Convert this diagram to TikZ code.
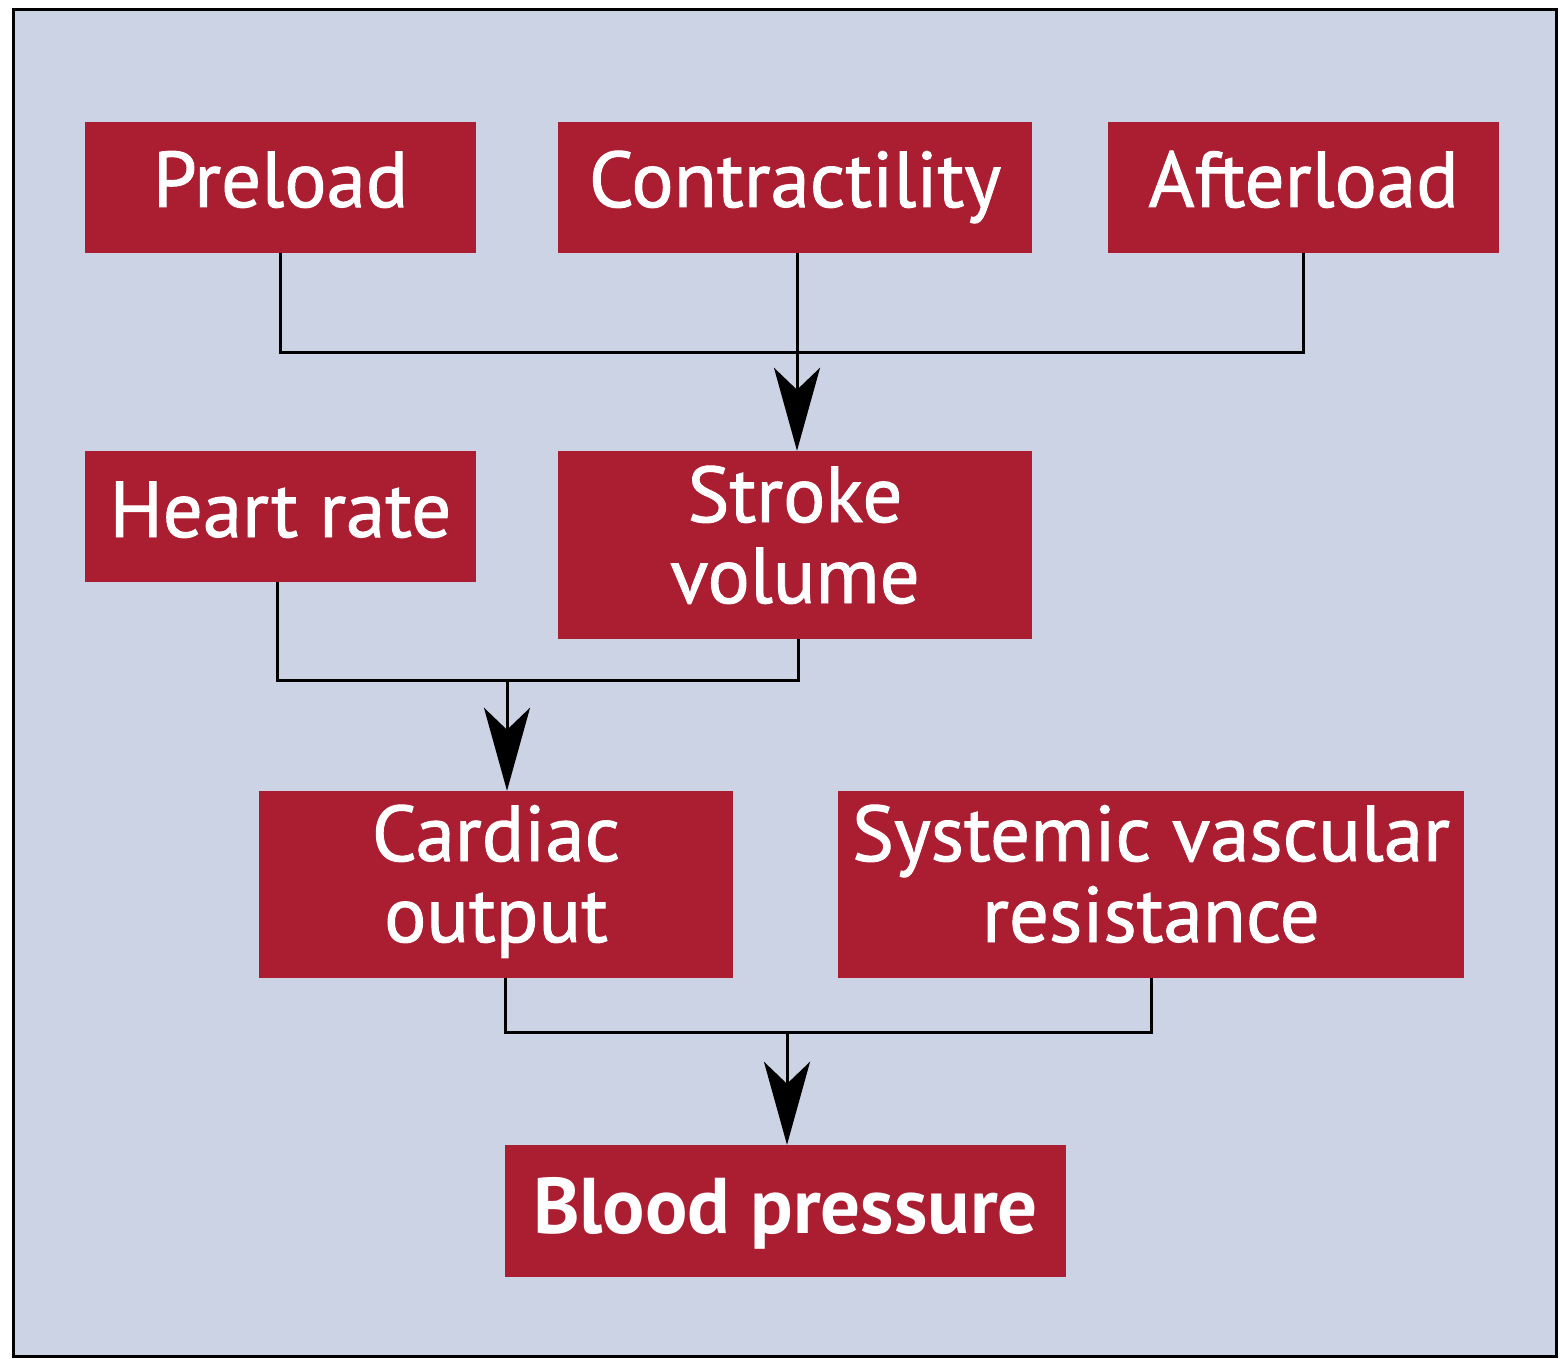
\documentclass[tikz,border=0pt]{standalone}
\usepackage{fontspec}
\setmainfont{PT Sans}[FakeBold=1.5, BoldFont={PT Sans Bold}, BoldFeatures={FakeBold=0}]
\newfontfamily\regfont{PT Sans}[FakeBold=1.2]
\newfontfamily\boldfont{PT Sans Bold}
\usetikzlibrary{arrows.meta}
\definecolor{bgcol}{HTML}{CCD3E4}
\definecolor{boxred}{HTML}{AB1D30}
\newcommand\mytxt[2]{\raisebox{-#1pt}[0pt][0pt]{\vbox{\halign{\hfil##\hfil\cr #2\cr}}}}
\begin{document}
\begin{tikzpicture}[x=1pt,y=-1pt,
  box/.style={fill=boxred, text=white, inner sep=0pt,
    font=\regfont\fontsize{79}{81}\selectfont},
  conn/.style={line width=3pt, draw=black},
  arr/.style={conn, -{Stealth[length=83pt, width=46pt, inset=22pt]}}]
\useasboundingbox (0,0) rectangle (1560,1359);
\draw[fill=bgcol, line width=3pt] (13,10) rectangle (1556,1356);
\node[box, minimum width=391pt, minimum height=131pt] (pre) at (280.5,187.5) {\mytxt{19.5}{Preload}};
\node[box, minimum width=474pt, minimum height=131pt] (con) at (795,187.5) {\mytxt{19.5}{Contractility}};
\node[box, minimum width=391pt, minimum height=131pt] (aft) at (1303.5,187.5) {\mytxt{19.5}{Afterload}};
\node[box, minimum width=391pt, minimum height=131pt] (hr) at (280.5,516.5) {\mytxt{20.5}{Heart rate}};
\node[box, minimum width=474pt, minimum height=188pt] (sv) at (795,545) {\mytxt{58}{Stroke\cr volume}};
\node[box, minimum width=474pt, minimum height=187pt] (co) at (496,884.5) {\mytxt{57.5}{Cardiac\cr output}};
\node[box, minimum width=626pt, minimum height=187pt] (svr) at (1151,884.5) {\mytxt{57.5}{Systemic vascular\cr resistance}};
\node[box, minimum width=561pt, minimum height=132pt, font=\boldfont\fontsize{79}{81}\selectfont] (bp) at (785.5,1211) {\mytxt{22}{Blood pressure}};
\coordinate (j1) at (797,352);
\coordinate (j2) at (507,680);
\coordinate (j3) at (787,1032);
\draw[conn] (pre.south) |- (j1) -| (aft.south);
\draw[arr] ([xshift=2pt]con.south) -- ([xshift=2pt]sv.north);
\draw[conn] ([xshift=-3pt]hr.south) |- (j2) -| ([xshift=3pt]sv.south);
\draw[arr] (j2) -- (co.north -| j2);
\draw[conn] ([xshift=9pt]co.south) |- (j3) -| (svr.south);
\draw[arr] (j3) -- (bp.north -| j3);
\end{tikzpicture}
\end{document}
